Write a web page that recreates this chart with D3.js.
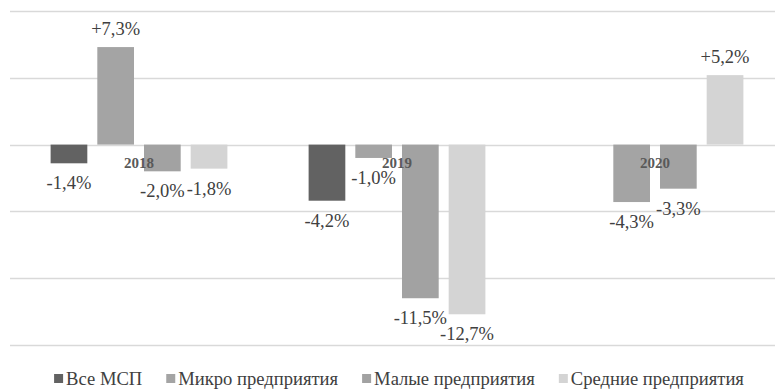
<!DOCTYPE html>
<html>
<head>
<meta charset="utf-8">
<script src="https://cdn.jsdelivr.net/npm/d3@7"></script>
<style>
  body { margin: 0; background: #fff; }
  svg text { font-family: "Liberation Serif", "DejaVu Serif", serif; }
</style>
</head>
<body>
<svg id="chart" width="775" height="389"></svg>
<script>
// data
var years = ["2018", "2019", "2020"];
var seriesNames = ["Все МСП", "Микро предприятия", "Малые предприятия", "Средние предприятия"];
var seriesColors = ["#626262", "#a4a4a4", "#a2a2a2", "#d4d4d4"];
var vseMsp = [-1.4, -4.2, null];
var mikro = [7.3, -1.0, -4.3];
var malye = [-2.0, -11.5, -3.3];
var srednie = [-1.8, -12.7, 5.2];
var gridTicks = [10, 5, 0, -5, -10, -15];

var seriesValues = [vseMsp, mikro, malye, srednie];

var dimensions = {
    width: 775,
    height: 389,
    margin: { top: 11, bottom: 44, left: 10, right: -9 }
};

var serif = "'Liberation Serif', 'DejaVu Serif', serif";
var svg = d3.select("#chart");

var yScale = d3.scaleLinear()
    .domain([-15, 10])
    .range([dimensions.height - dimensions.margin.bottom, dimensions.margin.top]);

var xScale = d3.scaleBand()
    .domain(years)
    .range([dimensions.margin.left, dimensions.width - dimensions.margin.right]);

var xInner = d3.scaleBand()
    .domain(d3.range(seriesNames.length))
    .range([0, xScale.bandwidth()])
    .paddingInner(0.214)
    .paddingOuter(0.87);

// gridlines
svg.append("g")
    .selectAll("line")
    .data(gridTicks)
    .enter()
    .append("line")
    .attr("x1", dimensions.margin.left)
    .attr("x2", dimensions.width)
    .attr("y1", d => Math.round(yScale(d)) + 0.5)
    .attr("y2", d => Math.round(yScale(d)) + 0.5)
    .attr("stroke", "#d9d9d9")
    .attr("stroke-width", 1.3);

// flatten to bars
var bars = [];
seriesValues.forEach(function(values, s) {
    values.forEach(function(v, i) {
        if (v !== null) bars.push({ s: s, year: years[i], value: v });
    });
});

svg.append("g")
    .selectAll("rect")
    .data(bars)
    .enter()
    .append("rect")
    .attr("x", d => xScale(d.year) + xInner(d.s))
    .attr("width", xInner.bandwidth())
    .attr("y", d => yScale(Math.max(0, d.value)))
    .attr("height", d => Math.abs(yScale(d.value) - yScale(0)))
    .attr("fill", d => seriesColors[d.s]);

// category labels sit on the zero line
svg.append("g")
    .selectAll("text")
    .data(years)
    .enter()
    .append("text")
    .attr("x", d => xScale(d) + xScale.bandwidth() / 2)
    .attr("y", yScale(0) + 23)
    .attr("text-anchor", "middle")
    .style("font-family", serif)
    .style("font-size", "15px")
    .style("font-weight", "bold")
    .attr("fill", "#595959")
    .text(d => d);

function fmt(v) {
    var s = Math.abs(v).toFixed(1).replace(".", ",") + "%";
    return (v > 0 ? "+" : "-") + s;
}

// value labels
svg.append("g")
    .selectAll("text")
    .data(bars)
    .enter()
    .append("text")
    .attr("x", d => xScale(d.year) + xInner(d.s) + xInner.bandwidth() / 2)
    .attr("y", d => d.value > 0 ? yScale(d.value) - 12 : yScale(d.value) + 26)
    .attr("text-anchor", "middle")
    .style("font-family", serif)
    .style("font-size", "18.5px")
    .attr("fill", "#404040")
    .text(d => fmt(d.value));

// legend
var legend = svg.append("g");
var items = legend.selectAll("g")
    .data(seriesNames)
    .enter()
    .append("g");

items.append("rect")
    .attr("width", 9)
    .attr("height", 9)
    .attr("y", -11)
    .attr("fill", (d, i) => seriesColors[i]);

items.append("text")
    .attr("x", 12)
    .attr("y", 0)
    .style("font-family", serif)
    .style("font-size", "18.6px")
    .attr("fill", "#404040")
    .text(d => d);

var gap = 24;
var pos = 0;
var offsets = [];
items.each(function() {
    var w = 12 + d3.select(this).select("text").node().getComputedTextLength();
    offsets.push(pos);
    pos += w + gap;
});
var totalW = pos - gap;
var startX = 399 - totalW / 2;
items.attr("transform", (d, i) => "translate(" + (startX + offsets[i]) + ",385)");
</script>
</body>
</html>
